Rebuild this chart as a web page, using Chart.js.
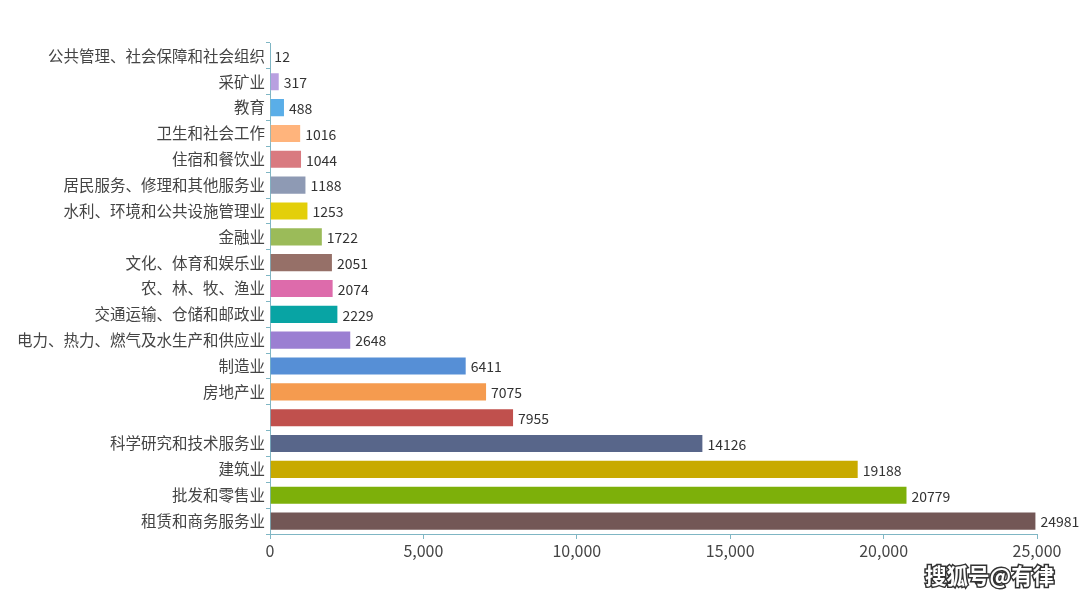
<!DOCTYPE html>
<html><head><meta charset="utf-8">
<script src="https://cdn.jsdelivr.net/npm/chart.js@4/dist/chart.umd.min.js"></script>
<style>html,body{margin:0;padding:0;background:#fff;}#wrap{position:relative;width:1080px;height:599px;}</style>
</head><body><div id="wrap"><canvas id="c" width="1080" height="599"></canvas></div>
<script>
const categories = ['公共管理、社会保障和社会组织','采矿业','教育','卫生和社会工作','住宿和餐饮业','居民服务、修理和其他服务业','水利、环境和公共设施管理业','金融业','文化、体育和娱乐业','农、林、牧、渔业','交通运输、仓储和邮政业','电力、热力、燃气及水生产和供应业','制造业','房地产业','','科学研究和技术服务业','建筑业','批发和零售业','租赁和商务服务业'];
const values = [12,317,488,1016,1044,1188,1253,1722,2051,2074,2229,2648,6411,7075,7955,14126,19188,20779,24981];
const barColors = ['#7ccfd6','#b8a0e0','#5aaee8','#ffb47c','#d97a80','#8e9ab4','#e3cf0a','#9bbb59','#967068','#dd6bab','#08a4a4','#9b7fd2','#568fd6','#f59b4f','#c0504d','#58668a','#c8aa00','#7db00a','#735756'];
const xTicks = [0,5000,10000,15000,20000,25000];
const FONT = '"Noto Sans CJK SC", "Open Sans", sans-serif';
const axisColor = '#7fb6c4';

const labelPlugin = {
  id:'vals',
  afterDatasetsDraw(chart){
    const ctx = chart.ctx;
    const meta = chart.getDatasetMeta(0);
    ctx.save();
    ctx.font = '14px ' + FONT;
    ctx.fillStyle = '#333';
    ctx.textAlign = 'left';
    ctx.textBaseline = 'middle';
    meta.data.forEach((el,i)=>{
      ctx.fillText(String(values[i]), el.x + 4, el.y + 1);
    });
    ctx.restore();
  }
};
const wmPlugin = {
  id:'wm',
  afterDraw(chart){
    const ctx = chart.ctx;
    ctx.save();
    ctx.font = 'bold 21.5px ' + FONT;
    ctx.textAlign = 'left';
    ctx.textBaseline = 'middle';
    ctx.lineWidth = 3;
    ctx.strokeStyle = '#333';
    ctx.strokeText('搜狐号@有律', 925, 576);
    ctx.fillStyle = '#fff';
    ctx.fillText('搜狐号@有律', 925, 576);
    ctx.restore();
  }
};

new Chart(document.getElementById('c'), {
  type:'bar',
  data:{labels:categories, datasets:[{data:values, backgroundColor:barColors, borderColor:'rgba(255,255,255,0.45)', borderWidth:1, barPercentage:0.74, categoryPercentage:1}]},
  options:{
    indexAxis:'y', responsive:false, animation:false,
    layout:{padding:{left:0,right:43,top:43,bottom:0}},
    plugins:{legend:{display:false}, tooltip:{enabled:false}},
    scales:{
      x:{min:0,max:25000,
        afterFit(s){s.height=65;},
        afterBuildTicks(s){s.ticks = xTicks.map(v=>({value:v}));},
        ticks:{font:{size:16,family:FONT},color:'#444',padding:2,callback:v=>v.toLocaleString('en-US')},
        grid:{drawOnChartArea:false,drawTicks:true,tickLength:5,color:axisColor},
        border:{color:axisColor,width:1}},
      y:{
        afterFit(s){s.width=270;},
        ticks:{font:{size:15.5,family:FONT},color:'#444',padding:1,autoSkip:false},
        grid:{drawOnChartArea:false,drawTicks:true,tickLength:4,offset:true,color:axisColor},
        border:{color:axisColor,width:1}}
    }
  },
  plugins:[labelPlugin,wmPlugin]
});
</script></body></html>
